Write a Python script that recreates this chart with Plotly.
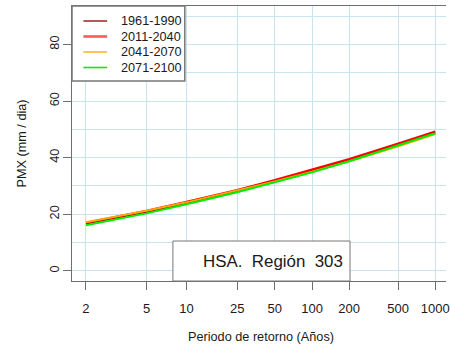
import math
import plotly.graph_objects as go

# ---- data ----
periods = [2, 5, 10, 25, 50, 100, 200, 500, 1000]
pmx_1961_1990 = [16.7, 20.9, 24.0, 28.2, 31.7, 35.3, 39.1, 44.6, 48.9]
pmx_2011_2040 = [17.0, 21.2, 24.4, 28.6, 32.1, 35.7, 39.5, 45.0, 49.3]
pmx_2041_2070 = [17.2, 21.2, 24.2, 28.3, 31.6, 35.0, 38.7, 44.0, 48.3]
pmx_2071_2100 = [16.1, 20.3, 23.5, 27.8, 31.3, 34.8, 38.7, 44.2, 48.6]
series_names = ["1961-1990", "2011-2040", "2041-2070", "2071-2100"]
series_values = [pmx_1961_1990, pmx_2011_2040, pmx_2041_2070, pmx_2071_2100]
series_colors = ["#8b0000", "#ff0000", "#ffa500", "#00ee00"]
legend_colors = ["#8b0000", "#ff5a5a", "#ffa500", "#00ee00"]
legend_widths = [1.3, 2.6, 1.3, 1.6]
x_tick_labels = ["2", "5", "10", "25", "50", "100", "200", "500", "1000"]
y_ticks = [0, 20, 40, 60, 80]
region_label = "HSA.  Región  303"

FONT = "Liberation Sans, Arial, sans-serif"
W, H = 450, 348
L, T, B = 72, 6, 281  # plot area pixel edges (right runs to the image edge)
PW, PH = W - L, B - T


def gumbel(t):
    """Gumbel reduced variate used as the x scale."""
    return -math.log(-math.log(1.0 - 1.0 / t))


def px(xp):
    return (xp - L) / PW


def py(yp):
    return (B - yp) / PH


xg = [gumbel(t) for t in periods]

fig = go.Figure()
for name, vals, col in zip(series_names, series_values, series_colors):
    fig.add_trace(go.Scatter(x=xg, y=vals, mode="lines", name=name,
                             line=dict(color=col, width=2), showlegend=False,
                             hoverinfo="skip"))

x0 = gumbel(2)
x1 = gumbel(1000)
span = x1 - x0
xlo = x0 - 0.04 * span
pxu = 353.0 / span
xhi = xlo + PW / pxu

grid = "#c9e3ef"
axc = "#6e6e6e"

fig.update_layout(
    width=W, height=H,
    margin=dict(l=L, r=0, t=T, b=H - B, pad=0),
    paper_bgcolor="white", plot_bgcolor="white",
    font=dict(family=FONT, size=12.7, color="#1a1a1a"),
    showlegend=False,
    xaxis=dict(range=[xlo, xhi], tickvals=[gumbel(t) for t in periods],
               ticktext=x_tick_labels, showgrid=True, gridcolor=grid, gridwidth=1,
               zeroline=False, showline=True, linecolor=axc, linewidth=1, mirror=True,
               ticks="outside", ticklen=8, tickcolor=axc, tickwidth=1,
               ticklabelstandoff=7, ticklabeloverflow="allow",
               tickfont=dict(size=13, family=FONT)),
    yaxis=dict(range=[-3.6, 93.6], tickvals=y_ticks, showgrid=True, gridcolor=grid,
               gridwidth=1, zeroline=False, showline=True, linecolor=axc, linewidth=1,
               ticks="outside", ticklen=8, tickcolor=axc, tickwidth=1, tickangle=-90,
               ticklabelstandoff=-1, tickfont=dict(size=12.7, family=FONT),
               minor=dict(dtick=10, tick0=0, showgrid=True, gridcolor=grid, ticks="")),
)

shapes = []
annos = []
# legend box
shapes.append(dict(type="rect", xref="paper", yref="paper", x0=px(L), x1=px(186),
                   y0=py(81), y1=py(T), fillcolor="white",
                   line=dict(color="#777777", width=1.5), layer="above"))
leg_rows = [21, 36.5, 52, 67.5]
for yrow, name, col, lw in zip(leg_rows, series_names, legend_colors, legend_widths):
    shapes.append(dict(type="line", xref="paper", yref="paper", x0=px(83.5), x1=px(107.5),
                       y0=py(yrow), y1=py(yrow), line=dict(color=col, width=lw),
                       layer="above"))
    annos.append(dict(xref="paper", yref="paper", x=px(119), y=py(yrow), text=name,
                      showarrow=False, xanchor="left", yanchor="middle",
                      font=dict(size=12.7, family=FONT, color="#1a1a1a")))

# region text box
shapes.append(dict(type="rect", xref="paper", yref="paper", x0=px(174), x1=px(353),
                   y0=py(B), y1=py(241), fillcolor="white",
                   line=dict(color="#777777", width=1), layer="above"))
annos.append(dict(xref="paper", yref="paper", x=px(275), y=py(261.5), text=region_label,
                  showarrow=False, xanchor="center", yanchor="middle",
                  font=dict(size=16.9, family=FONT, color="#1a1a1a")))

# axis titles
annos.append(dict(xref="paper", yref="paper", x=px(262.8), y=py(337),
                  text="Periodo de retorno (Años)", showarrow=False,
                  xanchor="center", yanchor="middle",
                  font=dict(size=12.7, family=FONT, color="#1a1a1a")))
annos.append(dict(xref="paper", yref="paper", x=px(20.5), y=py(143.5),
                  text="PMX (mm / dia)", showarrow=False, textangle=-90,
                  xanchor="center", yanchor="middle",
                  font=dict(size=12.7, family=FONT, color="#1a1a1a")))

fig.update_layout(shapes=shapes, annotations=annos)
fig.write_html("out.html", config={"displayModeBar": False, "staticPlot": True},
               post_script="document.body.style.margin='0';document.body.style.overflow='hidden';")
